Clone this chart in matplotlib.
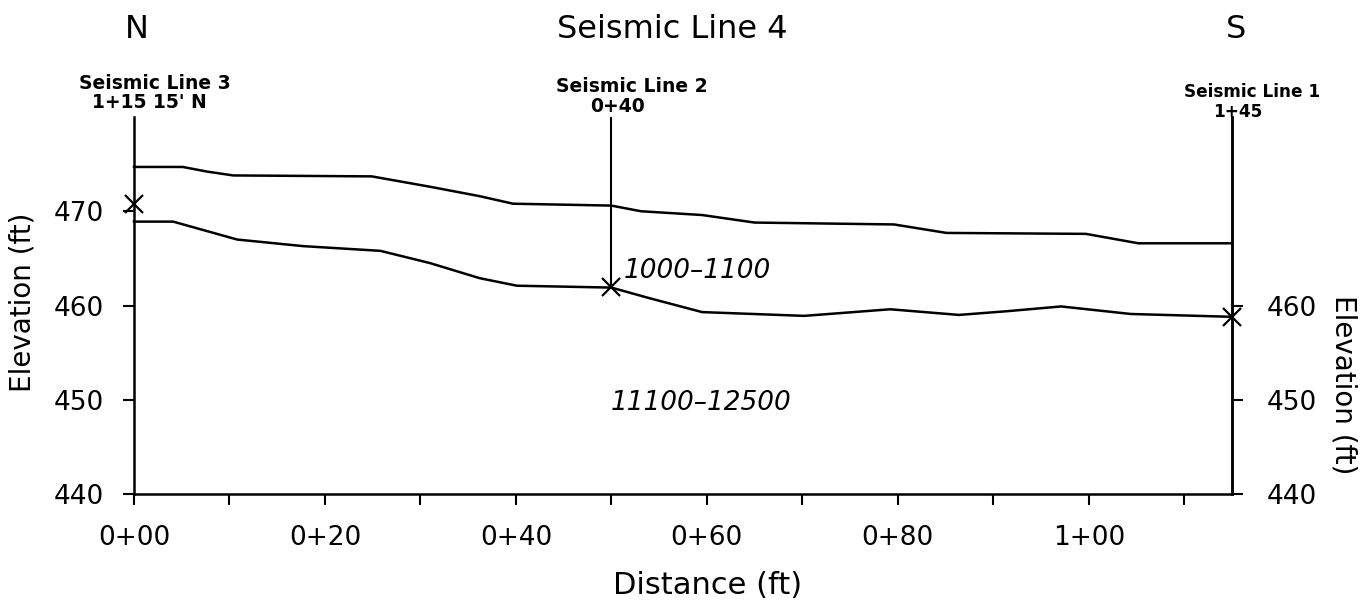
import matplotlib
matplotlib.use("Agg")
import matplotlib.pyplot as plt
from matplotlib.ticker import FixedLocator

# ---- data ----
upper_x = [0, 5.1, 7.7, 10.4, 24.9, 31, 36.2, 39.7, 50, 53.1, 59.5, 65, 79.6, 85.1, 99.7, 105.2, 115]
upper_y = [474.7, 474.7, 474.2, 473.8, 473.7, 472.6, 471.6, 470.8, 470.6, 470.0, 469.6, 468.8, 468.6, 467.7, 467.6, 466.6, 466.6]

lower_x = [0, 4.1, 10.8, 17.7, 25.8, 31, 36.2, 40.1, 50, 53.9, 59.5, 70.2, 79.2, 86.4, 91.5, 97.1, 104.4, 115]
lower_y = [468.9, 468.9, 467.0, 466.3, 465.8, 464.5, 462.9, 462.1, 461.9, 460.8, 459.3, 458.9, 459.6, 459.0, 459.4, 459.9, 459.1, 458.8]

cross_x = [0, 50, 115]
cross_y = [470.8, 462.0, 458.8]
cross_names = ["Seismic Line 3", "Seismic Line 2", "Seismic Line 1"]
cross_stations = ["1+15 15' N", "0+40", "1+45"]

x_major = [0, 20, 40, 60, 80, 100]
x_minor = [10, 30, 50, 70, 90, 110]
x_labels = ["0+00", "0+20", "0+40", "0+60", "0+80", "1+00"]
y_left_ticks = [440, 450, 460, 470]
y_right_ticks = [440, 450, 460]

zone_labels = ["1000\u20131100", "11100\u201312500"]

plt.rcParams['font.family'] = ['DejaVu Sans']

W, H = 1371, 610
fig = plt.figure(figsize=(W / 100, H / 100), dpi=100)
ax = fig.add_axes([134 / W, 1 - 494 / H, 1098 / W, (494 - 117) / H])

ax.set_xlim(0, 115)
ax.set_ylim(440, 480)

lw = 1.8
ax.plot(upper_x, upper_y, color='black', lw=lw, solid_joinstyle='round', clip_on=False)
ax.plot(lower_x, lower_y, color='black', lw=lw, solid_joinstyle='round', clip_on=False)
# seismic line 2 crossing marker line
ax.plot([cross_x[1], cross_x[1]], [cross_y[1], 480], color='black', lw=1.5)
ax.plot(cross_x, cross_y, linestyle='none', marker='x', ms=12.5, mew=1.6, color='black', clip_on=False)

ax.spines['top'].set_visible(False)
for sp in ['left', 'right', 'bottom']:
    ax.spines[sp].set_linewidth(1.8)

ax.xaxis.set_major_locator(FixedLocator(x_major))
ax.xaxis.set_minor_locator(FixedLocator(x_minor))
ax.set_xticklabels(x_labels)
ax.tick_params(axis='x', which='both', direction='out', length=8, width=1.5, labelsize=19, pad=14)
ax.set_yticks(y_left_ticks)
ax.tick_params(axis='y', which='both', direction='out', length=8, width=1.5, labelsize=19, pad=14)

ax2 = ax.twinx()
ax2.set_ylim(440, 480)
ax2.set_yticks(y_right_ticks)
ax2.tick_params(axis='y', direction='out', length=8, width=1.5, labelsize=19, pad=17)
for sp in ['top', 'left', 'bottom']:
    ax2.spines[sp].set_visible(False)
ax2.spines['right'].set_linewidth(1.8)

# axis labels
fig.text(708 / W, 1 - 585 / H, "Distance (ft)", ha='center', va='center', fontsize=22)
fig.text(23 / W, 1 - 302 / H, "Elevation (ft)", ha='center', va='center', fontsize=20, rotation=90)
fig.text(1343 / W, 1 - 385 / H, "Elevation (ft)", ha='center', va='center', fontsize=20, rotation=270)

# title and direction letters
fig.text(672 / W, 1 - 29 / H, "Seismic Line 4", ha='center', va='center', fontsize=23)
fig.text(137 / W, 1 - 29 / H, "N", ha='center', va='center', fontsize=23)
fig.text(1236 / W, 1 - 29 / H, "S", ha='center', va='center', fontsize=23)

# seismic line labels
name_off = [2.2, 2.1, 2.1]
stat_off = [1.6, 0.6, 0.6]
name_y = [483.6, 483.2, 482.6]
stat_y = [481.5, 481.1, 480.5]
sizes = [13.5, 13.5, 12.2]
for cx, nm, st, no, so, ny, sy, fs in zip(cross_x, cross_names, cross_stations, name_off, stat_off, name_y, stat_y, sizes):
    ax.text(cx + no, ny, nm, ha='center', va='center', fontsize=fs, fontweight='bold', clip_on=False)
    ax.text(cx + so, sy, st, ha='center', va='center', fontsize=fs, fontweight='bold', clip_on=False)

# zone labels
ax.text(58.95, 463.65, zone_labels[0], ha='center', va='center', fontsize=19, style='italic')
ax.text(59.4, 449.7, zone_labels[1], ha='center', va='center', fontsize=19, style='italic')

fig.savefig("out.png", dpi=100)
